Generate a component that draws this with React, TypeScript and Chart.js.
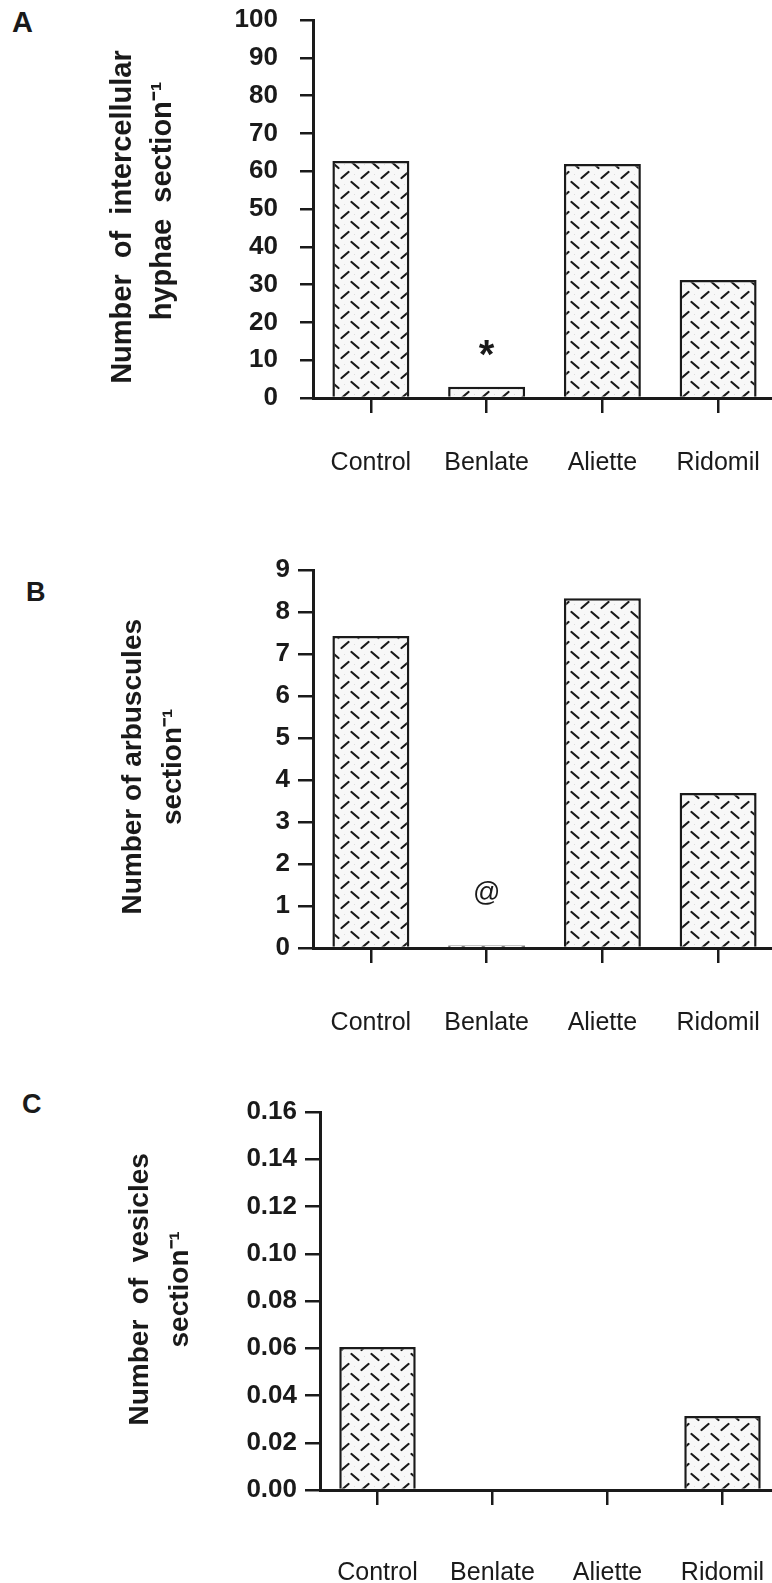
import React, { useEffect, useRef } from 'react';
import { Chart, registerables } from 'chart.js';

Chart.register(...registerables);

// ---------- data ----------
const categories = ['Control', 'Benlate', 'Aliette', 'Ridomil'];

const hyphaeValues = [62.7, 3.0, 61.9, 31.2];
const arbusculeValues = [7.43, 0.06, 8.33, 3.69];
const vesicleValues = [0.0605, 0, 0, 0.0313];

const hyphaeTicks = [0, 10, 20, 30, 40, 50, 60, 70, 80, 90, 100];
const arbusculeTicks = [0, 1, 2, 3, 4, 5, 6, 7, 8, 9];
const vesicleTicks = [0, 0.02, 0.04, 0.06, 0.08, 0.1, 0.12, 0.14, 0.16];

const hyphaeTitle = ['Number  of  intercellular  ', '  hyphae  section\u207B\u00B9'];
const arbusculeTitle = ['Number of arbuscules  ', 'section\u207B\u00B9  '];
const vesicleTitle = ['   Number  of  vesicles', '   section\u207B\u00B9'];

const hyphaeNote = { index: 1, value: 13.2, text: '*' };
const arbusculeNote = { index: 1, value: 1.31, text: '@' };

const FONT = "'Liberation Sans', Arial, Helvetica, sans-serif";
const INK = '#1a1a1a';

function makePattern(): CanvasPattern | string {
  const c = document.createElement('canvas');
  c.width = 20;
  c.height = 20;
  const g = c.getContext('2d');
  if (!g) return '#eee';
  g.fillStyle = '#f8f8f8';
  g.fillRect(0, 0, 20, 20);
  g.fillStyle = '#dcdcdc';
  g.fillRect(4, 4, 1, 1);
  g.fillRect(14, 14, 1, 1);
  g.strokeStyle = INK;
  g.lineWidth = 2.2;
  g.lineCap = 'round';
  g.beginPath();
  g.moveTo(11.5, 2);
  g.lineTo(18.5, 8);
  g.stroke();
  g.beginPath();
  g.moveTo(1.5, 18);
  g.lineTo(8.5, 12);
  g.stroke();
  return g.createPattern(c, 'repeat') || '#eee';
}

const notePlugin = {
  id: 'notes',
  afterDatasetsDraw(chart: any, _args: any, opts: any) {
    const note = opts && opts.note;
    if (!note) return;
    const { ctx } = chart;
    const x = chart.scales.x.getPixelForValue(note.index);
    const y = chart.scales.y.getPixelForValue(note.value);
    ctx.save();
    ctx.font = opts.font;
    ctx.fillStyle = INK;
    ctx.textAlign = 'center';
    ctx.textBaseline = 'alphabetic';
    const m = ctx.measureText(note.text);
    const yb = y + (m.actualBoundingBoxAscent - m.actualBoundingBoxDescent) / 2;
    ctx.fillText(note.text, x, yb);
    ctx.restore();
  },
};

type PanelProps = {
  top: number;
  height: number;
  width: number;
  yWidth: number;
  values: number[];
  ticks: number[];
  decimals: number;
  title: string[];
  titleSize: number;
  titlePad: number;
  yTickLen: number;
  yTickPad: number;
  xLabelPad: number;
  note?: { index: number; value: number; text: string };
  noteFont?: string;
};

function Panel(p: PanelProps) {
  const ref = useRef<HTMLCanvasElement | null>(null);
  useEffect(() => {
    if (!ref.current) return;
    const pattern = makePattern();
    const chart = new Chart(ref.current, {
      type: 'bar',
      data: {
        labels: categories,
        datasets: [
          {
            data: p.values,
            backgroundColor: pattern as any,
            borderColor: INK,
            borderWidth: 2.5,
            borderSkipped: 'bottom',
            barPercentage: 0.665,
            categoryPercentage: 1,
          },
        ],
      },
      options: {
        animation: false,
        responsive: false,
        devicePixelRatio: 1,
        layout: { padding: { top: 20, left: 0, right: 0, bottom: 0 }, autoPadding: false },
        plugins: {
          legend: { display: false },
          tooltip: { enabled: false },
          notes: p.note ? { note: p.note, font: p.noteFont } : {},
        } as any,
        scales: {
          x: {
            type: 'category',
            afterFit: (s: any) => {
              s.height = 100;
              s.paddingLeft = 0;
              s.paddingRight = 0;
              s.paddingTop = 0;
              s.paddingBottom = 0;
            },
            grid: {
              display: true,
              drawOnChartArea: false,
              drawTicks: true,
              offset: false,
              tickLength: 15,
              color: INK,
              lineWidth: 2.5,
            },
            border: { display: true, color: INK, width: 3 },
            ticks: {
              color: INK,
              padding: p.xLabelPad,
              maxRotation: 0,
              autoSkip: false,
              font: { family: FONT, size: 25, weight: 'normal', lineHeight: 1.2 },
            },
          },
          y: {
            type: 'linear',
            min: p.ticks[0],
            max: p.ticks[p.ticks.length - 1],
            afterFit: (s: any) => {
              s.width = p.yWidth;
              s.paddingLeft = 0;
              s.paddingRight = 0;
              s.paddingTop = 0;
              s.paddingBottom = 0;
            },
            afterBuildTicks: (s: any) => {
              s.ticks = p.ticks.map((v) => ({ value: v }));
            },
            grid: {
              display: true,
              drawOnChartArea: false,
              drawTicks: true,
              tickLength: p.yTickLen,
              color: INK,
              lineWidth: 2.5,
            },
            border: { display: true, color: INK, width: 3 },
            ticks: {
              color: INK,
              padding: p.yTickPad,
              autoSkip: false,
              font: { family: FONT, size: 26, weight: 'bold', lineHeight: 1.2 },
              callback: (v: any) => Number(v).toFixed(p.decimals),
            },
            title: {
              display: true,
              text: p.title,
              color: INK,
              padding: { top: p.titlePad, bottom: 0 },
              font: { family: FONT, size: p.titleSize, weight: 'bold', lineHeight: '40px' },
            },
          },
        },
      } as any,
      plugins: [notePlugin as any],
    });
    return () => chart.destroy();
  }, []);
  return (
    <div style={{ position: 'absolute', left: 0, top: p.top }}>
      <canvas ref={ref} width={p.width} height={p.height} style={{ display: 'block' }} />
    </div>
  );
}

const letterStyle = (left: number, top: number, size: number): React.CSSProperties => ({
  position: 'absolute',
  left,
  top,
  fontFamily: FONT,
  fontWeight: 'bold',
  fontSize: size,
  lineHeight: 1,
  color: INK,
});

export default function App() {
  return (
    <div
      style={{
        position: 'absolute',
        left: 0,
        top: 0,
        width: 772,
        height: 1583,
        overflow: 'hidden',
        background: '#fff',
      }}
    >
      <div style={letterStyle(12, 8, 29)}>A</div>
      <div style={letterStyle(26, 579, 27)}>B</div>
      <div style={letterStyle(22, 1091, 27)}>C</div>
      <Panel
        top={0}
        height={498}
        width={776}
        yWidth={313}
        values={hyphaeValues}
        ticks={hyphaeTicks}
        decimals={0}
        title={hyphaeTitle}
        titleSize={29}
        titlePad={103}
        yTickLen={13}
        yTickPad={22}
        xLabelPad={35}
        note={hyphaeNote}
        noteFont={`bold 40px ${FONT}`}
      />
      <Panel
        top={550}
        height={498}
        width={776}
        yWidth={313}
        values={arbusculeValues}
        ticks={arbusculeTicks}
        decimals={0}
        title={arbusculeTitle}
        titleSize={28}
        titlePad={113}
        yTickLen={15}
        yTickPad={8}
        xLabelPad={45}
        note={arbusculeNote}
        noteFont={`27px ${FONT}`}
      />
      <Panel
        top={1092}
        height={498}
        width={780}
        yWidth={320}
        values={vesicleValues}
        ticks={vesicleTicks}
        decimals={2}
        title={vesicleTitle}
        titleSize={28}
        titlePad={120}
        yTickLen={15}
        yTickPad={8}
        xLabelPad={53}
      />
    </div>
  );
}
